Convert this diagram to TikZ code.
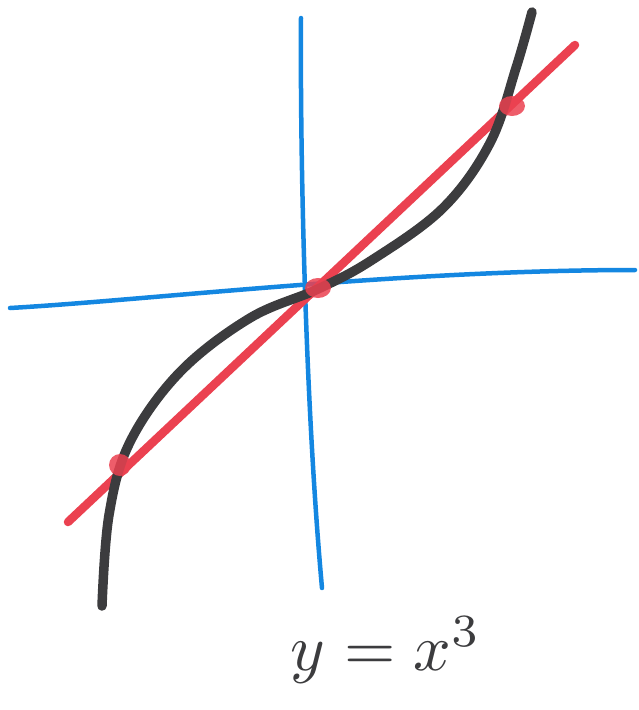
\documentclass[tikz,border=0pt]{standalone}
\usetikzlibrary{calc}
\definecolor{axisblue}{RGB}{20,135,225}
\definecolor{linered}{RGB}{235,65,80}
\definecolor{curvegray}{RGB}{60,60,62}
\tikzset{
  axis/.style={draw=axisblue, line width=4.5pt, line cap=round},
  redline/.style={draw=linered, line width=8.5pt, line cap=round},
  cubic/.style={draw=curvegray, line width=9.5pt, line cap=round, line join=round},
  knot/.style={fill=linered, opacity=0.85},
  lbl/.style={text=curvegray, inner sep=0pt}
}
\begin{document}
\begin{tikzpicture}[x=1pt,y=-1pt]
\useasboundingbox (0,0) rectangle (638,710);
% axes
\draw[axis] (301,18) .. controls (300,150) and (305,400) .. (322,588);
\draw[axis] (10,308) .. controls (150,300) and (400,270) .. (635,270);
% red line
\draw[redline] (68,522) -- (575,45);
% cubic curve
\draw[cubic] plot[smooth, tension=0.6] coordinates {
  (102,606) (109,515) (130,442) (180,372) (250,318) (318,289)
  (372,260) (443,208) (490,143) (516,68) (532,12)};
% intersection knots
\fill[knot] (120,465) circle (11pt);
\fill[knot] (318,288) ellipse (13pt and 10pt);
\fill[knot] (512,106) ellipse (13pt and 10pt);
% label
\node[lbl] (lab) at (386,650) {\scalebox{6.6}{$y = x^{3}$}};
\end{tikzpicture}
\end{document}
